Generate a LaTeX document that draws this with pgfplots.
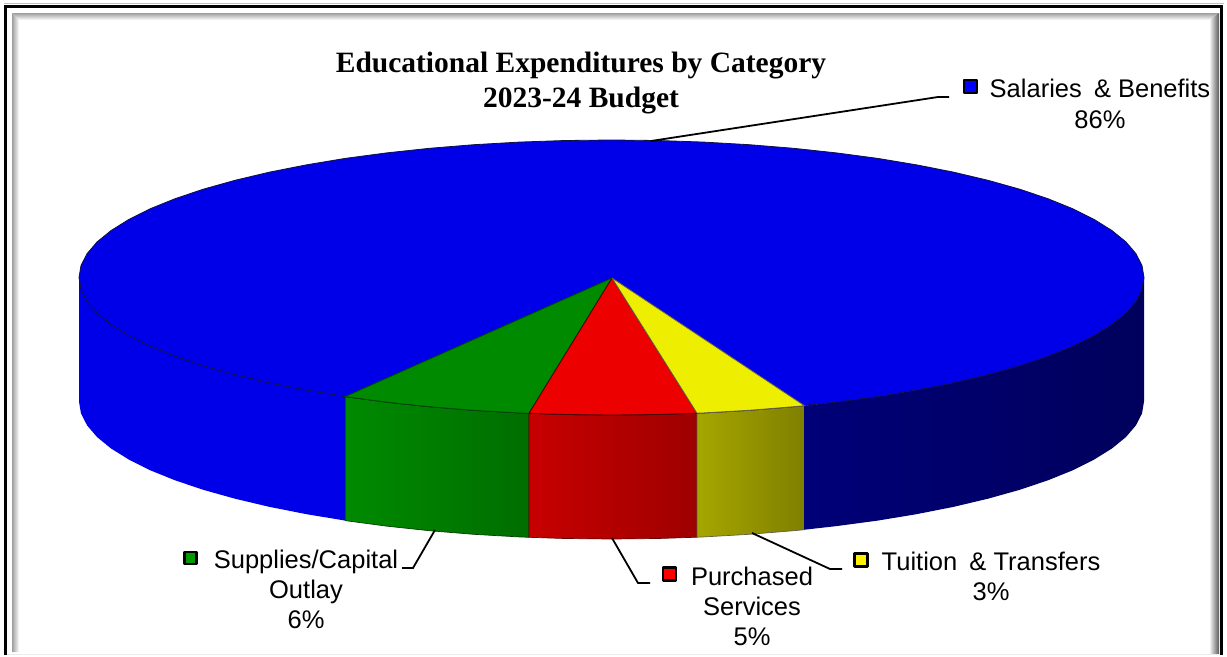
\documentclass[border=0pt]{standalone}
\usepackage{fontspec}
\setmainfont{Liberation Sans}
\newfontfamily\ttlfont{Liberation Serif}
\usepackage{pgfplots}
\pgfplotsset{compat=1.18}
\definecolor{pieblue}{HTML}{0000E8}
\definecolor{piegreen}{HTML}{008A00}
\definecolor{piered}{HTML}{EC0000}
\definecolor{pieyellow}{HTML}{EEEE00}
\definecolor{rimline}{HTML}{101040}
% one line of a label: x centre, baseline y, text
\newcommand{\lab}[3]{\node[anchor=base,inner sep=0pt,font=\fontsize{25.5}{30}\selectfont] at (axis cs:#1,#2) {#3};}
\newcommand{\ttl}[3]{\node[anchor=base,inner sep=0pt,font=\fontsize{29.5}{34}\selectfont\ttlfont\bfseries] at (axis cs:#1,#2) {#3};}
\begin{document}
\begin{tikzpicture}
\begin{axis}[
    width=1227pt, height=655pt,
    scale only axis,
    xmin=0, xmax=1227, ymin=0, ymax=655,
    y dir=reverse,
    hide axis,
    clip=false,
]
% page
\addplot[fill=white,draw=none] coordinates {(0,0) (1227,0) (1227,655) (0,655) (0,0)};

% ---- frame bevel ----
\addplot[draw=none,top color=black!38,bottom color=white] coordinates {(12,13) (1219,13) (1209,20) (19,20) (12,13)};
\addplot[draw=none,left color=black!38,right color=white] coordinates {(12,13) (19,20) (19,652) (12,652) (12,13)};
\addplot[draw=none,left color=white,right color=black!65] coordinates {(1209,20) (1219,13) (1219,654) (1209,654) (1209,20)};
\addplot[draw=black!8,line width=1pt] coordinates {(4,654.3) (1220,654.3)};
\addplot[draw=black!25,line width=1pt] coordinates {(4,3.5) (1224,3.5)};
\addplot[black,line width=3pt] coordinates {(5.5,655) (5.5,6) (1221.5,6) (1221.5,655)};

% ---- side of the disc ----
\addplot[fill=pieblue,draw=none] coordinates {
 (79,277.5) (81,289.5) (87.1,301.4) (97.1,313.1) (111.1,324.5) (128.9,335.6) (150.3,346.3)
 (175.3,356.4) (203.6,365.9) (235,374.7) (269.2,382.8) (306.1,390.1) (345.2,396.6)
 (345.2,520.6) (306.1,514.1) (269.2,506.8) (235,498.7) (203.6,489.9) (175.3,480.4)
 (150.3,470.3) (128.9,459.6) (111.1,448.5) (97.1,437.1) (87.1,425.4) (81,413.5) (79,401.5) (79,277.5)};
\addplot[draw=black!75!green,line width=.7pt,left color=piegreen,right color=green!43!black] coordinates {
 (345.2,396.6) (386.5,402.1) (429.4,406.7) (473.7,410.3) (519,412.9) (529,413.3)
 (529,537.3) (519,536.9) (473.7,534.3) (429.4,530.7) (386.5,526.1) (345.2,520.6) (345.2,396.6)};
\addplot[draw=red!40!black,line width=.7pt,left color=red!78!black,right color=red!62!black] coordinates {
 (529,413.3) (565.1,414.5) (611.5,415) (657.9,414.5) (697,413.2)
 (697,537.2) (657.9,538.5) (611.5,539) (565.1,538.5) (529,537.3) (529,413.3)};
\addplot[draw=yellow!30!black,line width=.7pt,left color=yellow!65!black,right color=yellow!50!black] coordinates {
 (697,413.2) (704,412.9) (749.3,410.3) (793.6,406.7) (804.5,405.7)
 (804.5,529.7) (793.6,530.7) (749.3,534.3) (704,536.9) (697,537.2) (697,413.2)};
\addplot[draw=none,left color=blue!47!black,right color=blue!36!black] coordinates {
 (804.5,405.7) (836.5,402.1) (877.8,396.6) (916.9,390.1) (953.8,382.8) (988,374.7) (1019.4,365.9)
 (1047.7,356.4) (1072.7,346.3) (1094.1,335.6) (1111.9,324.5) (1125.9,313.1) (1135.9,301.4)
 (1142,289.5) (1144,277.5) (1144,401.5) (1142,413.5) (1135.9,425.4) (1125.9,437.1) (1111.9,448.5)
 (1094.1,459.6) (1072.7,470.3) (1047.7,480.4) (1019.4,489.9) (988,498.7) (953.8,506.8) (916.9,514.1)
 (877.8,520.6) (836.5,526.1) (804.5,529.7) (804.5,405.7)};

% ---- top of the disc ----
\addplot[fill=pieblue,draw=rimline,line width=.8pt] coordinates {
 (1144,277.5) (1142,265.5) (1135.9,253.6) (1125.9,241.9) (1111.9,230.5) (1094.1,219.4) (1072.7,208.7)
 (1047.7,198.6) (1019.4,189.1) (988,180.3) (953.8,172.2) (916.9,164.9) (877.8,158.4) (836.5,152.9)
 (793.6,148.3) (749.3,144.7) (704,142.1) (657.9,140.5) (611.5,140) (565.1,140.5) (519,142.1)
 (473.7,144.7) (429.4,148.3) (386.5,152.9) (345.2,158.4) (306.1,164.9) (269.2,172.2) (235,180.3)
 (203.6,189.1) (175.3,198.6) (150.3,208.7) (128.9,219.4) (111.1,230.5) (97.1,241.9) (87.1,253.6)
 (81,265.5) (79,277.5) (81,289.5) (87.1,301.4) (97.1,313.1) (111.1,324.5) (128.9,335.6) (150.3,346.3)
 (175.3,356.4) (203.6,365.9) (235,374.7) (269.2,382.8) (306.1,390.1) (345.2,396.6) (386.5,402.1)
 (429.4,406.7) (473.7,410.3) (519,412.9) (565.1,414.5) (611.5,415) (657.9,414.5) (704,412.9)
 (749.3,410.3) (793.6,406.7) (836.5,402.1) (877.8,396.6) (916.9,390.1) (953.8,382.8) (988,374.7)
 (1019.4,365.9) (1047.7,356.4) (1072.7,346.3) (1094.1,335.6) (1111.9,324.5) (1125.9,313.1)
 (1135.9,301.4) (1142,289.5) (1144,277.5)};
\addplot[fill=piegreen,draw=black!70!green,line width=.8pt] coordinates {
 (612,278) (345.2,396.6) (386.5,402.1) (429.4,406.7) (473.7,410.3) (519,412.9) (529,413.3) (612,278)};
\addplot[fill=piered,draw=red!30!black,line width=.8pt] coordinates {
 (612,278) (529,413.3) (565.1,414.5) (611.5,415) (657.9,414.5) (697,413.2) (612,278)};
\addplot[fill=pieyellow,draw=yellow!30!black,line width=.8pt] coordinates {
 (612,278) (697,413.2) (704,412.9) (749.3,410.3) (793.6,406.7) (804.5,405.7) (612,278)};

% ---- leader lines ----
\addplot[black,line width=1.8pt] coordinates {(651,141) (938,97) (949,97)};
\addplot[black,line width=1.8pt] coordinates {(435,530) (413,568) (402,568)};
\addplot[black,line width=1.8pt] coordinates {(612,538) (638,583) (650,583)};
\addplot[black,line width=1.8pt] coordinates {(752,533) (830,569) (842,569)};

% ---- legend keys ----
\addplot[only marks,mark=square*,mark size=6.5pt,mark options={draw=black,line width=2.4pt,line join=round,fill=blue}] coordinates {(970.7,86.7)};
\addplot[only marks,mark=square*,mark size=6pt,mark options={draw=black,line width=2.4pt,line join=round,fill=green!60!black}] coordinates {(190.5,558)};
\addplot[only marks,mark=square*,mark size=6.5pt,mark options={draw=black,line width=2.4pt,line join=round,fill=red}] coordinates {(669.5,574)};
\addplot[only marks,mark=square*,mark size=6.5pt,mark options={draw=black,line width=2.4pt,line join=round,fill=yellow}] coordinates {(861,560)};

% ---- text ----
\ttl{581}{72}{Educational Expenditures by Category}
\ttl{581}{107}{2023-24 Budget}
\lab{1100}{97}{Salaries\hspace{.2em} \& Benefits}
\lab{1100}{128}{86\%}
\lab{306}{568}{Supplies/Capital}
\lab{306}{598}{Outlay}
\lab{306}{628}{6\%}
\lab{752}{585}{Purchased}
\lab{752}{615}{Services}
\lab{752}{645}{5\%}
\lab{991}{570}{Tuition\hspace{.2em} \& Transfers}
\lab{991}{600}{3\%}
\end{axis}
\end{tikzpicture}
\end{document}
